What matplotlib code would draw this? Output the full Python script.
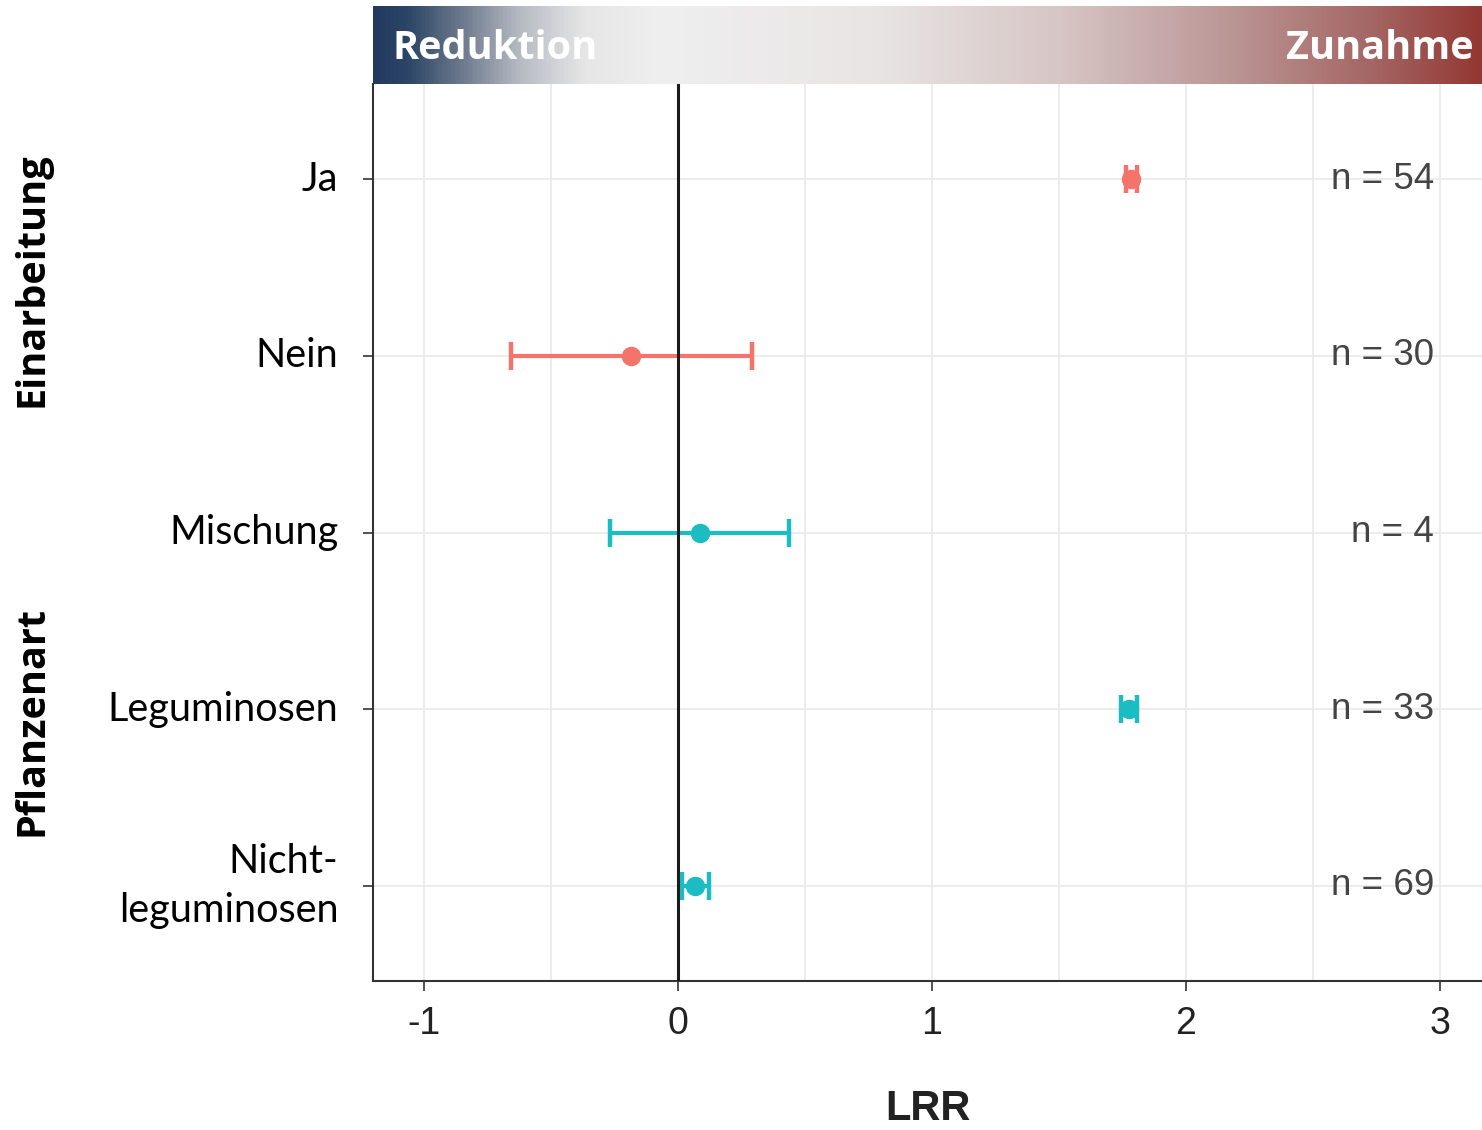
import numpy as np
import matplotlib
matplotlib.use("Agg")
import matplotlib.pyplot as plt
from matplotlib.colors import LinearSegmentedColormap

# Effect sizes (log response ratio) with 95% confidence limits
categories = ["Ja", "Nein", "Mischung", "Leguminosen", "Nicht-\nleguminosen"]
lrr_mean = [1.785, -0.185, 0.087, 1.776, 0.067]
ci_low = [1.762, -0.657, -0.268, 1.745, 0.016]
ci_high = [1.808, 0.291, 0.437, 1.807, 0.122]
n_obs = [54, 30, 4, 33, 69]
group = ["Einarbeitung", "Einarbeitung", "Pflanzenart", "Pflanzenart", "Pflanzenart"]
x_ticks = [-1, 0, 1, 2, 3]

group_colors = {"Einarbeitung": "#F4736B", "Pflanzenart": "#1CBDC2"}

W, H = 1482, 1130
fig = plt.figure(figsize=(W / 100, H / 100), dpi=100)

ax_left = 373 / W
ax_bottom = 1 - 981 / H
ax_top = 1 - 84 / H
ax = fig.add_axes([ax_left, ax_bottom, 1 - ax_left, ax_top - ax_bottom])

ypos = np.arange(1, len(categories) + 1)
ax.set_xlim(-1.2, 3.165)
ax.set_ylim(len(categories) + 0.54, 0.46)

# grid
for v in [-1, -0.5, 0, 0.5, 1, 1.5, 2, 2.5, 3]:
    ax.axvline(v, color="#ebebeb", lw=1.3, zorder=0)
for y in ypos:
    ax.axhline(y, color="#ebebeb", lw=1.3, zorder=0)

for y, m, lo, hi, g in zip(ypos, lrr_mean, ci_low, ci_high, group):
    c = group_colors[g]
    ax.errorbar(m, y, xerr=[[m - lo], [hi - m]], fmt="o", color=c,
                ecolor=c, elinewidth=3, capsize=10, capthick=3.2,
                markersize=13, zorder=3)

ax.axvline(0, color="#1a1a1a", lw=2.2, zorder=4)

for y, n in zip(ypos, n_obs):
    ax.text(2.976, y, f"n = {n}", ha="right", va="center", fontsize=26.5,
            color="#444444", family=["Liberation Sans", "DejaVu Sans"])

ax.set_yticks(ypos)
ax.set_yticklabels(categories, fontsize=28.5, family=["Lato", "DejaVu Sans"],
                   color="black", linespacing=1.4)
for lab in ax.get_yticklabels():
    lab.set_verticalalignment("center")
ax.set_xticks(x_ticks)
ax.set_xticklabels([str(t) for t in x_ticks], fontsize=27, color="#222222",
                   family=["Liberation Sans Narrow", "Liberation Sans", "DejaVu Sans"])
ax.tick_params(axis="y", length=7, width=1.2, color="#333333", pad=18)
ax.tick_params(axis="x", length=7, width=1.2, color="#333333", pad=11)

for s in ["top", "right"]:
    ax.spines[s].set_visible(False)
for s in ["left", "bottom"]:
    ax.spines[s].set_color("#333333")
    ax.spines[s].set_linewidth(1.5)

ax.set_xlabel("LRR", fontsize=30, fontweight="bold", labelpad=34,
              family=["Liberation Sans Narrow", "Liberation Sans", "DejaVu Sans"],
              color="#222222")

# group labels
fig.text(32 / W, 1 - 280 / H, "Einarbeitung", rotation=90, ha="center", va="center",
         fontsize=28.5, fontweight="bold", family=["Open Sans", "DejaVu Sans"])
fig.text(32 / W, 1 - 721 / H, "Pflanzenart", rotation=90, ha="center", va="center",
         fontsize=28.5, fontweight="bold", family=["Open Sans", "DejaVu Sans"])

# header bar with colour gradient
hdr = fig.add_axes([ax_left, 1 - 84 / H, 1 - ax_left, 78 / H])
cmap = LinearSegmentedColormap.from_list("hdr", [
    (0.0, "#213a5f"),
    (0.03, "#2d4566"),
    (0.08, "#6f7b8e"),
    (0.13, "#b5bac2"),
    (0.19, "#e6e6e7"),
    (0.26, "#efefef"),
    (0.45, "#e9e5e5"),
    (0.62, "#d6c6c5"),
    (0.78, "#b99493"),
    (0.9, "#a56765"),
    (1.0, "#943833"),
])
grad = np.linspace(0, 1, 512)[None, :]
hdr.imshow(grad, aspect="auto", cmap=cmap, extent=[0, 1, 0, 1])
hdr.set_axis_off()
hdr.text(0.018, 0.45, "Reduktion", ha="left", va="center", color="white",
         fontsize=28.5, fontweight="bold", family=["Open Sans", "DejaVu Sans"])
hdr.text(0.992, 0.45, "Zunahme", ha="right", va="center", color="white",
         fontsize=28.5, fontweight="bold", family=["Open Sans", "DejaVu Sans"])

fig.savefig("out.png", dpi=100)
